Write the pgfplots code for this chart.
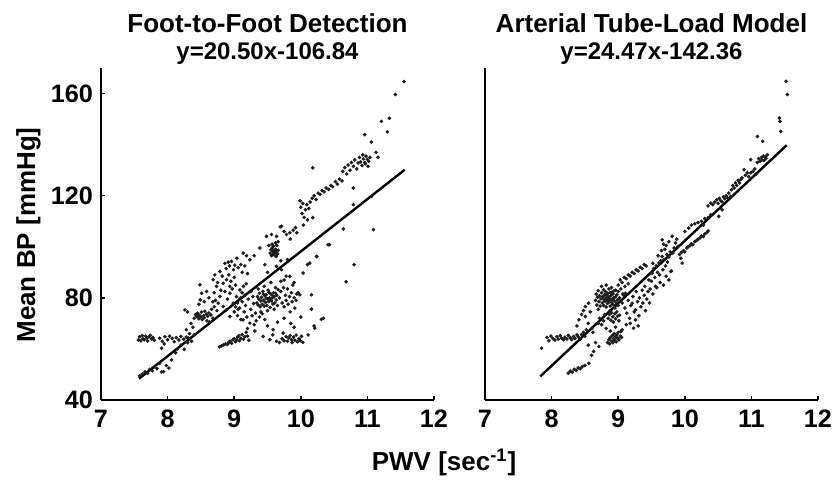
\documentclass[border=0pt]{standalone}
\usepackage{pgfplots}
\pgfplotsset{compat=1.18}
\usepackage{fontspec}
\setmainfont{Liberation Sans}
\pgfplotsset{
  myax/.style={
    scale only axis, width=166.5pt, height=166pt,
    xmin=7, xmax=12, ymin=40, ymax=170,
    axis lines=left, axis line style={-, line width=1.25pt},
    tick align=inside, major tick length=2pt,
    tick style={line width=0.8pt, black},
    xtick={7,8,9,10,11,12},
    ticklabel style={font=\bfseries\fontsize{12.6}{13}\selectfont},
    xticklabel style={yshift=-1.5pt},
    yticklabel style={xshift=-0.5pt},
    /pgf/number format/assume math mode=true,
    clip=false,
  },
  dots/.style={only marks, mark=*, mark size=0.7pt, black!88},
}
\begin{document}
\begin{tikzpicture}
\useasboundingbox (-50.5pt,-40.5pt) rectangle (367pt,200pt);
% ---------------- Left panel ----------------
\begin{axis}[myax, at={(0pt,0pt)}, anchor=south west, ytick={40,80,120,160}]
\addplot[dots] table {
7.56 63.5
7.58 64.8
7.60 63.2
7.62 65.2
7.63 64.0
7.65 63.6
7.67 65.0
7.69 64.3
7.70 63.1
7.72 64.7
7.74 65.3
7.76 63.9
7.78 64.5
7.80 63.4
7.88 64.2
7.92 63.0
7.96 64.8
8.00 63.6
8.03 65.0
8.07 64.1
8.10 62.8
8.13 64.4
8.17 63.5
8.20 64.9
8.24 63.8
8.28 64.6
7.91 60.3
7.95 62.0
7.58 49.5
7.62 50.2
7.66 51.0
7.70 50.5
7.73 52.0
7.77 51.5
7.80 53.0
7.84 52.3
7.88 54.4
7.91 51.0
7.94 51.1
7.98 53.5
8.02 52.5
8.06 55.7
8.12 58.5
8.15 60.0
8.20 61.5
8.25 59.8
8.28 67.5
8.30 62.5
8.31 64.2
8.33 66.0
8.36 63.0
8.40 65.5
8.40 72.0
8.42 73.5
8.44 72.7
8.45 74.0
8.47 71.8
8.48 73.2
8.50 72.5
8.51 74.4
8.52 71.5
8.54 73.0
8.55 72.2
8.56 74.8
8.58 73.6
8.59 71.0
8.60 72.8
8.62 74.1
8.63 70.5
8.65 73.3
8.66 75.5
8.68 72.0
8.26 75.3
8.30 74.5
8.35 70.0
8.38 68.5
8.70 76.5
8.485 85.1
8.51 81.8
8.49 79.2
8.585 82.5
8.47 77.5
8.55 78.5
8.62 80.0
8.685 87.1
8.71 89.0
8.785 90.3
8.735 84.5
8.835 85.7
8.885 87.1
8.935 84.5
8.935 81.8
8.785 80.5
8.76 77.9
8.835 76.6
8.885 75.3
8.935 72.7
8.985 77.9
9.035 80.5
9.085 83.1
8.70 82.0
8.72 79.0
8.75 86.0
8.80 83.0
8.82 88.5
8.86 82.5
8.90 79.5
8.92 89.0
8.95 86.5
8.97 83.5
9.00 88.0
9.02 85.0
9.05 78.0
9.06 75.5
8.88 91.5
8.93 92.5
8.99 91.0
8.68 78.5
8.74 75.0
8.86 93.5
8.91 94.0
8.96 94.3
9.01 92.8
9.06 91.8
9.10 93.0
9.16 92.5
9.235 94.9
9.135 97.5
9.185 96.5
9.04 95.5
9.12 90.0
9.20 89.5
9.385 99.5
9.30 96.5
9.485 104.1
9.56 104.8
9.635 104.1
9.71 108.0
9.785 104.8
9.835 105.5
9.885 106.5
9.92 107.5
9.75 106.0
9.66 102.0
9.52 100.5
9.54 97.5
9.55 98.8
9.56 96.5
9.57 99.5
9.58 97.0
9.58 98.2
9.59 100.2
9.60 96.8
9.60 98.5
9.61 97.6
9.62 99.0
9.63 96.2
9.63 98.0
9.64 100.5
9.65 97.2
9.66 98.6
9.57 101.0
9.62 101.5
9.46 93.0
9.635 92.3
9.71 91.0
9.835 88.4
10.035 89.7
10.135 93.6
10.235 96.2
10.41 100.8
9.80 95.0
9.70 94.5
9.50 90.0
9.75 87.0
9.90 86.0
9.34 78.0
9.35 80.5
9.36 77.2
9.37 79.5
9.38 81.8
9.39 76.5
9.40 78.8
9.41 80.2
9.42 77.5
9.43 82.5
9.44 79.0
9.45 76.8
9.46 80.8
9.47 78.2
9.48 81.2
9.49 77.0
9.50 79.6
9.51 83.0
9.52 78.5
9.53 80.0
9.54 76.2
9.55 81.5
9.56 78.8
9.57 79.9
9.58 77.6
9.59 82.0
9.60 80.4
9.61 78.0
9.62 84.0
9.63 79.2
9.64 81.0
9.65 77.0
9.66 83.2
9.50 75.0
9.45 84.5
9.55 86.0
9.40 74.5
9.60 75.5
9.52 82.2
9.48 79.8
9.58 80.8
9.54 79.3
9.44 81.4
9.62 81.8
9.36 83.5
9.68 80.0
9.70 82.5
9.72 78.0
9.74 84.0
9.75 76.5
9.77 81.0
9.78 79.0
9.80 83.5
9.81 77.5
9.83 80.5
9.84 74.5
9.86 82.0
9.87 78.5
9.88 85.0
9.90 80.0
9.91 76.0
9.93 79.0
9.94 81.5
9.96 82.0
9.985 81.2
10.16 81.2
10.16 75.6
10.31 71.6
10.21 68.1
10.11 65.5
9.70 86.5
9.78 88.5
9.05 73.0
9.08 76.0
9.10 71.5
9.12 78.5
9.135 71.4
9.15 74.5
9.17 77.0
9.19 72.5
9.21 79.5
9.235 70.1
9.25 75.5
9.27 73.0
9.29 77.8
9.30 69.5
9.32 74.0
9.33 71.0
9.20 68.0
9.16 81.0
9.25 82.5
9.10 80.0
9.28 80.5
9.31 67.0
9.38 72.5
9.42 73.8
9.46 71.5
9.00 74.5
9.02 76.5
9.08 79.5
9.12 82.0
9.14 84.5
9.18 85.5
9.585 67.5
9.435 64.9
9.735 66.2
9.50 69.0
9.65 70.5
9.75 72.0
9.85 70.0
9.90 68.5
9.68 62.5
10.0 72.5
8.78 60.8
8.81 61.2
8.84 61.6
8.87 62.0
8.90 61.8
8.92 62.6
8.94 63.0
8.96 62.2
8.98 63.6
9.00 64.0
9.02 62.8
9.04 63.5
9.05 64.6
9.07 65.2
9.08 63.2
9.10 64.2
9.12 65.6
9.14 63.8
9.16 64.8
9.18 66.5
9.20 65.0
9.22 63.4
9.72 64.0
9.75 63.2
9.78 64.8
9.80 63.0
9.82 64.3
9.84 65.2
9.86 63.6
9.87 62.5
9.89 64.6
9.91 63.4
9.93 65.4
9.95 62.8
9.97 64.0
9.99 63.2
10.01 64.9
10.03 62.6
9.535 63.6
9.635 63.0
9.58 65.5
9.99 118.0
10.00 115.5
10.02 113.0
10.03 117.0
10.05 111.5
10.07 114.5
10.09 116.5
10.10 110.5
10.12 115.0
10.14 117.5
10.17 119.0
10.20 120.0
10.23 118.5
10.26 121.0
10.29 120.5
10.32 122.0
10.35 121.5
10.38 123.0
10.42 122.5
10.45 124.0
10.48 123.5
10.52 125.5
10.55 124.5
10.58 126.5
10.62 125.8
10.18 130.9
10.04 108.5
10.63 129.5
10.66 131.0
10.69 128.5
10.71 132.0
10.74 130.0
10.76 133.0
10.79 131.5
10.81 134.0
10.84 130.5
10.86 132.8
10.88 135.0
10.90 133.2
10.92 131.8
10.94 134.4
10.96 133.0
10.98 135.5
11.00 134.2
11.02 133.5
11.04 135.0
10.97 132.5
10.93 136.0
11.01 131.5
10.79 123.0
10.79 116.5
10.64 107.0
11.09 106.7
10.43 100.8
10.80 93.0
10.68 86.3
10.24 96.2
10.10 93.0
10.34 72.0
10.20 69.0
11.55 164.7
11.42 159.6
11.21 149.1
11.33 150.3
11.30 145.0
10.96 143.9
11.06 141.0
11.13 137.0
11.16 135.0
11.06 119.7
10.18 111.4
9.69 107.8
9.84 103.0
9.94 105.5
};
\addplot[black, line width=1.2pt] coordinates {(7.57,48.35) (11.56,130.14)};
\end{axis}
% ---------------- Right panel ----------------
\begin{axis}[myax, at={(192pt,0pt)}, anchor=south west, ytick=\empty]
\addplot[dots] table {
7.85 60.3
7.93 64.5
7.96 63.2
7.99 65.0
8.02 64.0
8.05 63.5
8.08 64.8
8.10 63.8
8.13 65.2
8.15 64.2
8.18 63.6
8.20 64.6
8.23 63.9
8.25 65.3
8.28 64.4
8.30 63.7
8.33 64.9
8.35 64.1
8.38 65.5
8.40 64.7
8.43 63.9
8.45 65.6
8.48 66.5
8.50 65.0
8.52 67.5
8.25 50.5
8.28 51.3
8.31 50.9
8.34 52.0
8.37 51.6
8.40 52.6
8.43 52.3
8.46 53.1
8.50 53.5
8.56 54.4
8.41 71.4
8.38 69.0
8.506 72.7
8.48 75.0
8.506 76.6
8.556 77.9
8.45 73.5
8.55 70.0
8.60 68.0
8.58 74.5
8.71 60.9
8.63 59.0
8.66 62.5
8.60 57.5
8.55 61.5
8.66 79.0
8.67 81.5
8.68 77.2
8.69 80.2
8.70 82.8
8.71 78.5
8.72 80.8
8.73 76.8
8.74 79.6
8.75 82.0
8.76 78.0
8.77 80.5
8.78 83.2
8.78 77.0
8.79 79.2
8.80 81.2
8.80 78.6
8.81 82.4
8.82 80.0
8.82 76.4
8.83 79.0
8.84 81.8
8.84 77.8
8.85 80.6
8.86 83.5
8.86 78.4
8.87 79.8
8.88 82.0
8.88 76.8
8.89 80.9
8.90 78.2
8.90 84.0
8.91 79.5
8.92 81.5
8.92 77.4
8.93 80.0
8.94 82.8
8.94 78.8
8.95 76.0
8.96 80.4
8.96 83.0
8.97 78.0
8.98 81.2
8.99 79.2
9.00 77.0
8.75 84.5
8.82 85.0
8.70 75.5
8.87 74.8
8.79 81.0
8.85 79.4
8.91 82.2
8.77 79.9
8.83 80.8
8.89 78.9
8.85 72.0
8.87 73.5
8.89 71.2
8.90 74.2
8.92 72.6
8.93 70.5
8.95 73.8
8.96 71.8
8.98 74.5
8.99 72.8
9.01 71.0
9.02 73.2
8.80 73.5
8.78 71.0
8.75 69.5
8.72 72.0
8.70 70.0
8.82 68.0
8.88 67.0
8.96 68.5
8.62 66.5
8.84 62.5
8.86 63.6
8.87 62.0
8.88 64.4
8.90 63.0
8.91 65.2
8.92 62.4
8.93 64.0
8.94 66.0
8.95 63.4
8.96 64.8
8.97 62.8
8.98 65.5
8.99 64.2
9.00 66.5
9.01 63.6
9.03 65.0
9.04 66.8
9.05 64.5
9.06 67.5
9.03 87.0
9.06 86.0
9.09 88.0
9.12 87.5
9.15 89.0
9.18 88.5
9.21 90.0
9.24 89.5
9.27 91.0
9.30 90.5
9.33 92.0
9.36 91.5
9.39 93.0
9.42 92.5
9.10 84.5
9.15 85.5
9.00 85.0
9.00 82.5
9.04 83.5
9.07 81.5
9.02 80.0
9.06 78.0
9.08 81.0
9.10 76.0
9.11 81.8
9.13 74.0
9.15 79.0
9.17 72.0
9.19 77.0
9.21 77.9
9.22 80.5
9.24 74.5
9.26 75.3
9.27 82.5
9.29 78.5
9.31 73.0
9.32 80.0
9.34 76.5
9.36 83.0
9.37 78.0
9.39 81.0
9.41 75.0
9.43 79.5
9.45 82.5
9.26 71.4
9.23 68.1
9.18 70.0
9.30 69.0
9.12 69.5
9.40 84.5
9.47 78.0
9.46 87.0
9.48 89.5
9.50 86.5
9.51 89.7
9.53 91.5
9.55 88.0
9.57 92.5
9.59 90.0
9.61 93.6
9.62 89.0
9.64 94.5
9.66 96.2
9.67 91.0
9.69 95.0
9.71 92.5
9.73 97.0
9.74 94.0
9.76 96.0
9.78 98.0
9.79 90.3
9.60 96.5
9.65 98.5
9.52 93.5
9.70 99.0
9.56 84.5
9.48 83.5
9.52 81.5
9.58 84.0
9.63 86.0
9.68 85.0
9.72 88.5
9.76 87.0
9.80 90.5
9.66 102.7
9.68 101.0
9.72 100.5
9.76 102.0
9.81 104.1
9.84 99.5
9.86 101.5
9.88 103.0
9.90 100.2
9.82 97.5
9.92 97.0
9.95 97.8
9.98 98.5
10.00 98.0
10.03 99.5
10.05 100.0
10.08 100.5
10.10 101.2
10.12 100.8
10.15 102.0
10.18 102.5
10.20 103.0
10.23 103.5
10.25 104.2
10.28 104.0
10.30 105.0
10.33 105.5
10.35 106.2
9.96 93.6
9.94 95.5
10.06 107.3
10.00 106.0
10.10 108.5
10.15 109.0
10.20 109.5
10.25 110.0
10.30 111.0
10.35 111.5
10.39 112.5
10.28 108.5
10.51 111.9
10.56 114.5
10.39 117.1
10.35 116.0
10.42 116.5
10.45 117.5
10.48 118.4
10.50 117.0
10.52 119.0
10.54 118.0
10.56 117.6
10.58 119.5
10.60 118.8
10.62 120.0
10.64 119.2
10.66 121.0
10.69 119.7
10.70 122.3
10.72 124.0
10.74 123.0
10.76 125.0
10.78 124.0
10.80 126.0
10.82 125.0
10.84 126.3
10.86 127.0
10.89 130.2
10.91 128.0
10.94 129.0
10.96 127.5
10.99 128.9
11.02 129.5
11.05 130.5
11.07 128.5
10.99 134.1
11.09 133.0
11.11 134.5
11.13 133.5
11.15 135.0
11.16 134.0
11.18 135.5
11.19 133.8
11.21 135.2
11.22 134.6
11.24 136.0
11.09 143.2
11.17 141.3
11.42 150.4
11.43 149.1
11.44 145.2
11.52 164.8
11.54 159.6
};
\addplot[black, line width=1.2pt] coordinates {(7.83,49.24) (11.53,139.78)};
\end{axis}
% ---------------- Texts ----------------
\node[anchor=base, font=\bfseries\fontsize{13}{13}\selectfont] at (83.25pt,183.5pt) {Foot-to-Foot Detection};
\node[anchor=base, font=\bfseries\fontsize{12}{12}\selectfont] at (83.25pt,170.25pt) {y=20.50x-106.84};
\node[anchor=base, font=\bfseries\fontsize{13}{13}\selectfont] at (275.25pt,183.5pt) {Arterial Tube-Load Model};
\node[anchor=base, font=\bfseries\fontsize{12}{12}\selectfont] at (275.25pt,170.25pt) {y=24.47x-142.36};
\node[rotate=90, anchor=center, font=\bfseries\fontsize{13}{13}\selectfont] at (-36.25pt,82.5pt) {Mean BP [mmHg]};
\node[anchor=base, font=\bfseries\fontsize{13}{13}\selectfont] at (171.5pt,-35pt) {PWV [sec\textsuperscript{-1}]};
\end{tikzpicture}
\end{document}
